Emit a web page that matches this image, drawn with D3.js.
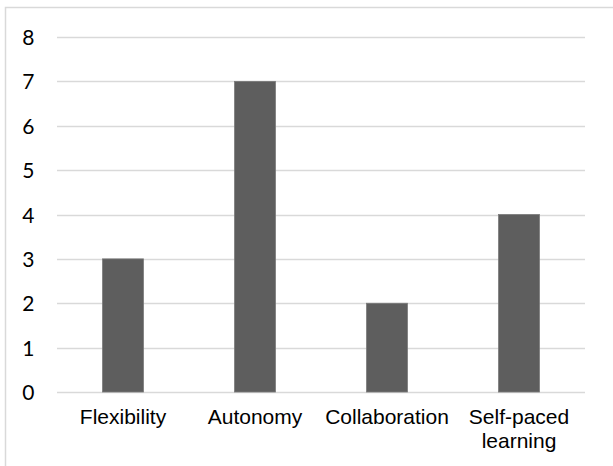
<!DOCTYPE html>
<html>
<head>
<meta charset="utf-8">
<script src="https://cdn.jsdelivr.net/npm/d3@7"></script>
<style>
  html, body { margin: 0; padding: 0; background: #fff; }
  svg { display: block; }
</style>
</head>
<body>
<script>
// Reasons students gave for preferring online learning
const categories = ["Flexibility", "Autonomy", "Collaboration", "Self-paced learning"];
const counts = [3, 7, 2, 4];
const yTicks = [0, 1, 2, 3, 4, 5, 6, 7, 8];

const W = 613, H = 466;
const plot = { left: 57, right: 585, top: 37, bottom: 392 };

const svg = d3.select("body").append("svg")
  .attr("width", W).attr("height", H);

// chart frame
svg.append("rect")
  .attr("x", 5.5).attr("y", 7.5)
  .attr("width", 640).attr("height", 480)
  .attr("fill", "#fff")
  .attr("stroke", "#d9d9d9")
  .attr("stroke-width", 1.5);

const x = d3.scaleBand()
  .domain(categories)
  .range([plot.left, plot.right])
  .paddingInner(0.69)
  .paddingOuter(0.345);

const y = d3.scaleLinear()
  .domain([0, 8])
  .range([plot.bottom, plot.top]);

// horizontal gridlines
svg.append("g")
  .selectAll("line")
  .data(yTicks)
  .join("line")
  .attr("x1", plot.left).attr("x2", plot.right)
  .attr("y1", d => Math.round(y(d)) + 0.5)
  .attr("y2", d => Math.round(y(d)) + 0.5)
  .attr("stroke", "#d9d9d9")
  .attr("stroke-width", 1.5);

// y-axis labels
const yAxis = d3.axisLeft(y).tickValues(yTicks).tickSize(0).tickPadding(0);
const gy = svg.append("g")
  .attr("transform", `translate(34.5,0)`)
  .call(yAxis);
gy.select(".domain").remove();
gy.selectAll("text")
  .attr("font-family", "Lato, 'Open Sans', sans-serif")
  .attr("font-size", 21)
  .attr("fill", "#000")
  .attr("dy", "0.36em");

// bars
svg.append("g")
  .selectAll("rect")
  .data(categories.map((c, i) => ({ c, v: counts[i] })))
  .join("rect")
  .attr("x", d => x(d.c))
  .attr("width", x.bandwidth())
  .attr("y", d => y(d.v))
  .attr("height", d => y(0) - y(d.v))
  .attr("fill", "#5e5e5e")
  .attr("stroke", "#7a7a7a")
  .attr("stroke-width", 0.8);

// category labels (wrapped onto two lines where needed)
const xAxis = d3.axisBottom(x).tickSize(0).tickPadding(0);
const gx = svg.append("g")
  .attr("transform", `translate(0,${plot.bottom})`)
  .call(xAxis);
gx.select(".domain").remove();
gx.selectAll("text")
  .attr("font-family", "'Liberation Sans', Arial, sans-serif")
  .attr("font-size", 21)
  .attr("fill", "#000")
  .attr("y", 0)
  .attr("dy", null)
  .text(null)
  .each(function (d) {
    const words = d === "Self-paced learning" ? ["Self-paced", "learning"] : [d];
    const t = d3.select(this);
    words.forEach((w, i) => {
      t.append("tspan")
        .attr("x", 0)
        .attr("y", 32 + i * 24)
        .text(w);
    });
  });
</script>
</body>
</html>
